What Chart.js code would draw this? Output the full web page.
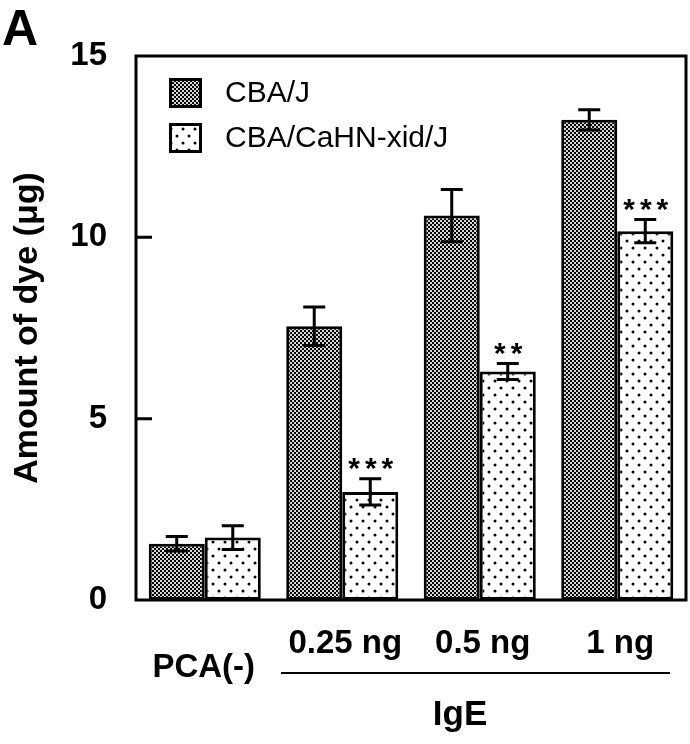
<!DOCTYPE html>
<html lang="en">
<head>
  <meta charset="UTF-8">
  <title>PCA - amount of dye</title>
  <style>
    body { margin: 0; background: #fff; }
    #chart { display: block; }
  </style>
</head>
<body>
  <canvas id="chart" width="690" height="744"></canvas>

  <script src="https://cdn.jsdelivr.net/npm/chart.js"></script>
  <script>
    // values
    const categories = ['PCA(-)', '0.25 ng', '0.5 ng', '1 ng'];
    const seriesNames = ['CBA/J', 'CBA/CaHN-xid/J'];
    const cbaValues = [1.55, 7.55, 10.6, 13.24];
    const cbaErrors = [0.2, 0.53, 0.72, 0.28];
    const xidValues = [1.72, 2.98, 6.3, 10.17];
    const xidErrors = [0.33, 0.36, 0.22, 0.32];
    const xidStars = ['', '***', '**', '***'];
    const yTicks = [0, 5, 10, 15];
    const groupLabel = 'IgE';

    const FONT = '"Liberation Sans", Arial, Helvetica, sans-serif';

    // halftone fills like the print
    function makePattern(kind) {
      const c = document.createElement('canvas');
      const g = c.getContext('2d');
      if (kind === 'dense') {
        c.width = 4; c.height = 4;
        g.fillStyle = '#000';
        g.fillRect(0, 0, 4, 4);
        g.fillStyle = '#d8d8d8';
        g.fillRect(0, 0, 2, 2);
        g.fillRect(2, 2, 2, 2);
      } else {
        c.width = 12; c.height = 14;
        g.fillStyle = '#fff';
        g.fillRect(0, 0, 12, 14);
        g.fillStyle = '#000';
        g.beginPath(); g.arc(3, 3, 1.5, 0, Math.PI * 2); g.fill();
        g.beginPath(); g.arc(9, 10, 1.5, 0, Math.PI * 2); g.fill();
      }
      return g.createPattern(c, 'repeat');
    }
    const densePat = makePattern('dense');
    const dotPat = makePattern('dots');

    const extras = {
      id: 'extras',
      afterDatasetsDraw(chart) {
        const ctx = chart.ctx;
        const y = chart.scales.y;
        const x = chart.scales.x;
        const area = chart.chartArea;
        ctx.save();
        ctx.strokeStyle = '#000';
        ctx.fillStyle = '#000';

        // error bars
        const errs = [cbaErrors, xidErrors];
        const vals = [cbaValues, xidValues];
        ctx.lineWidth = 3;
        for (let d = 0; d < 2; d++) {
          const meta = chart.getDatasetMeta(d);
          meta.data.forEach((bar, i) => {
            const top = y.getPixelForValue(vals[d][i] + errs[d][i]);
            const bot = y.getPixelForValue(vals[d][i] - errs[d][i]);
            ctx.beginPath();
            ctx.moveTo(bar.x, top); ctx.lineTo(bar.x, bot);
            ctx.moveTo(bar.x - 11, top); ctx.lineTo(bar.x + 11, top);
            ctx.moveTo(bar.x - 11, bot); ctx.lineTo(bar.x + 11, bot);
            ctx.stroke();
          });
        }

        // significance stars
        const meta2 = chart.getDatasetMeta(1);
        ctx.font = 'bold 30px ' + FONT;
        ctx.textAlign = 'center';
        ctx.textBaseline = 'alphabetic';
        ctx.letterSpacing = '5px';
        meta2.data.forEach((bar, i) => {
          if (!xidStars[i]) return;
          const top = y.getPixelForValue(xidValues[i] + xidErrors[i]);
          ctx.fillText(xidStars[i], bar.x + 3, top - 18 + 17);
        });
        ctx.letterSpacing = '0px';

        // frame and inward ticks
        ctx.lineWidth = 3;
        ctx.strokeRect(area.left, area.top, area.right - area.left, area.bottom - area.top);
        ctx.beginPath();
        yTicks.forEach(v => {
          if (v === 0 || v === 15) return;
          const py = y.getPixelForValue(v);
          ctx.moveTo(area.left, py);
          ctx.lineTo(area.left + 16, py);
        });
        ctx.stroke();

        // legend inside the plot
        const pats = [densePat, dotPat];
        const ly = [78, 123];
        ctx.font = '30px ' + FONT;
        ctx.textAlign = 'left';
        ctx.textBaseline = 'middle';
        seriesNames.forEach((name, i) => {
          ctx.fillStyle = pats[i];
          ctx.fillRect(169, ly[i], 33, 30);
          ctx.lineWidth = 3;
          ctx.strokeRect(170.5, ly[i] + 1.5, 30, 27);
          ctx.fillStyle = '#000';
          ctx.fillText(name, 225, ly[i] + 16);
        });

        // category labels under the axis
        ctx.font = 'bold 33px ' + FONT;
        ctx.textAlign = 'center';
        ctx.textBaseline = 'alphabetic';
        categories.forEach((lab, i) => {
          const px = x.getPixelForValue(i);
          if (i === 0) ctx.fillText(lab, px - 1, 677);
          else ctx.fillText(lab, px + 3, 653);
        });
        ctx.lineWidth = 2;
        ctx.beginPath();
        ctx.moveTo(281, 673);
        ctx.lineTo(670, 673);
        ctx.stroke();
        ctx.font = 'bold 35px ' + FONT;
        ctx.fillText(groupLabel, 460, 725);

        // panel letter
        ctx.font = 'bold 50px ' + FONT;
        ctx.textAlign = 'left';
        ctx.fillText('A', 2, 45);
        ctx.restore();
      }
    };

    new Chart(document.getElementById('chart'), {
      type: 'bar',
      data: {
        labels: categories,
        datasets: [
          {
            label: seriesNames[0],
            data: cbaValues,
            backgroundColor: densePat,
            borderColor: '#000',
            borderWidth: 3,
            borderSkipped: false
          },
          {
            label: seriesNames[1],
            data: xidValues,
            backgroundColor: dotPat,
            borderColor: '#000',
            borderWidth: 3,
            borderSkipped: false
          }
        ]
      },
      options: {
        responsive: false,
        animation: false,
        events: [],
        categoryPercentage: 0.815,
        barPercentage: 1,
        layout: { padding: { left: 0, top: 56, right: 4, bottom: 0 } },
        plugins: {
          legend: { display: false },
          tooltip: { enabled: false }
        },
        scales: {
          x: {
            grid: { display: false, drawTicks: false },
            border: { display: false },
            ticks: { display: false },
            afterFit(scale) { scale.height = 144; }
          },
          y: {
            min: 0,
            max: 15,
            afterBuildTicks(scale) { scale.ticks = yTicks.map(v => ({ value: v })); },
            grid: { display: false, drawTicks: false },
            border: { display: false },
            ticks: {
              color: '#000',
              padding: 29,
              font: { family: FONT, size: 33, weight: 'bold' }
            },
            title: {
              display: true,
              text: 'Amount of dye (μg)',
              color: '#000',
              padding: { top: 7, bottom: 0 },
              font: { family: FONT, size: 34, weight: 'bold' }
            },
            afterFit(scale) { scale.width = 136; }
          }
        }
      },
      plugins: [extras]
    });
  </script>
</body>
</html>
